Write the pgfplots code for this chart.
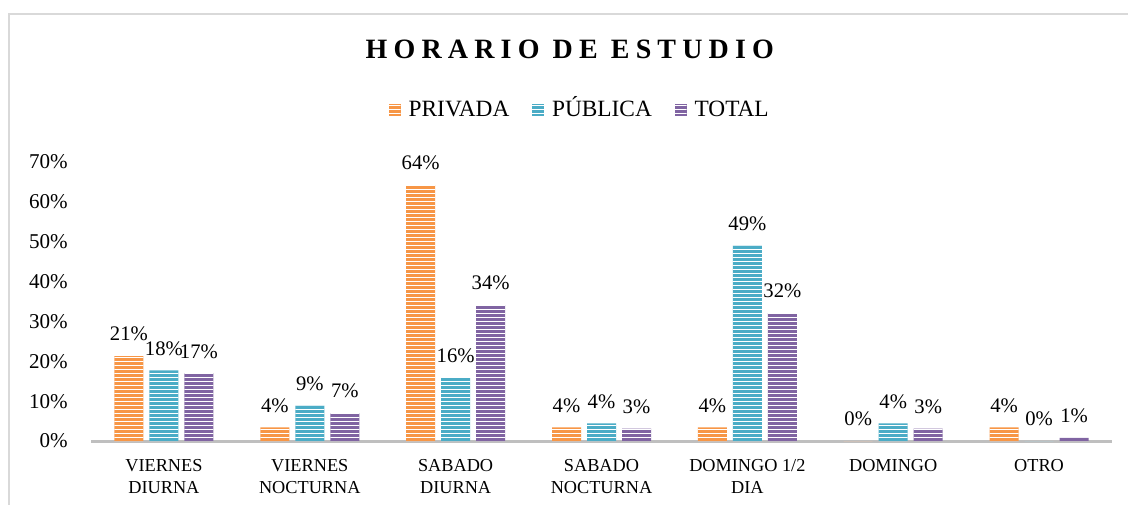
\documentclass[border=0pt]{standalone}
\usepackage{fontspec}
\setmainfont{Liberation Serif}
\usepackage{pgfplots}
\usepackage{pgfplotstable}
\pgfplotsset{compat=1.18}
\usetikzlibrary{patterns.meta}
\definecolor{cPriv}{HTML}{F79646}
\definecolor{cPub}{HTML}{4BACC6}
\definecolor{cTot}{HTML}{8064A2}
\definecolor{cBase}{HTML}{BFBFBF}
\definecolor{cFrame}{HTML}{D9D9D9}

\pgfplotstableread{
x p pl
0 21.3 21
1 3.4 4
2 64.2 64
3 3.4 4
4 3.4 4
5 0 0
6 3.4 4
}\privada
\pgfplotstableread{
x p pl
0 17.7 18
1 8.9 9
2 15.8 16
3 4.4 4
4 49.0 49
5 4.4 4
6 0 0
}\publica
\pgfplotstableread{
x p pl
0 17.0 17
1 7.0 7
2 34.1 34
3 3.1 3
4 32.1 32
5 3.1 3
6 0.8 1
}\total

\begin{document}
\begin{tikzpicture}
\useasboundingbox (0,0) rectangle (846bp,378.75bp);
\draw[cFrame, line width=1.5bp] (6.75bp,-10bp) -- (6.75bp,368.25bp) -- (870bp,368.25bp);
\begin{axis}[
  at={(68.25bp,48bp)}, anchor=south west,
  scale only axis,
  width=765.75bp, height=209.25bp,
  xmin=-0.5, xmax=6.5, ymin=0, ymax=70,
  clip=false,
  ybar=4.5bp, bar width=21.75bp,
  separate axis lines,
  axis x line*=bottom, axis y line*=left,
  x axis line style={draw=cBase, line width=2.25bp, -},
  y axis line style={draw=none},
  major tick length=0pt,
  ytick={0,10,20,30,40,50,60,70},
  yticklabel={\pgfmathprintnumber{\tick}\%},
  /pgf/number format/assume math mode=true,
  yticklabel style={font=\fontsize{15.8bp}{19bp}\selectfont, xshift=-14bp},
  xtick={0,1,2,3,4,5,6},
  xticklabels={VIERNES\\DIURNA, VIERNES\\NOCTURNA, SABADO\\DIURNA, SABADO\\NOCTURNA, DOMINGO 1/2\\DIA, DOMINGO, OTRO},
  xticklabel style={align=center, font=\fontsize{13.7bp}{16.5bp}\selectfont, yshift=-10bp},
  point meta=explicit symbolic,
  nodes near coords={\pgfplotspointmeta\%},
  every node near coord/.append style={font=\fontsize{15.5bp}{18bp}\selectfont, anchor=south, inner sep=0pt, yshift=11bp},
  title={HORARIO DE ESTUDIO},
  title style={at={(0.469,1.375)}, anchor=center, font=\fontsize{21bp}{24bp}\selectfont\bfseries\addfontfeature{LetterSpace=22}},
  legend columns=3,
  legend style={at={(0.479,1.19)}, anchor=center, draw=none, fill=none,
    font=\fontsize{17.5bp}{20bp}\selectfont,
    /tikz/every odd column/.append style={column sep=4bp},
    /tikz/every even column/.append style={column sep=15bp, nodes={text height=16bp, text depth=4bp}},
    nodes={inner sep=2bp}},
  legend image code/.code={\fill[#1] (0bp,-5bp) rectangle (9bp,4bp);},
]
\addplot[draw=none, fill=cPriv, postaction={pattern={Lines[angle=0, distance=3bp, line width=0.6bp]}, pattern color=white}] table[x=x, y=p, meta=pl] {\privada};
\addplot[draw=none, fill=cPub, postaction={pattern={Lines[angle=0, distance=3bp, line width=0.6bp]}, pattern color=white}] table[x=x, y=p, meta=pl] {\publica};
\addplot[draw=none, fill=cTot, postaction={pattern={Lines[angle=0, distance=3bp, line width=0.6bp]}, pattern color=white}] table[x=x, y=p, meta=pl] {\total};
\legend{PRIVADA, PÚBLICA, TOTAL}
\end{axis}
\end{tikzpicture}
\end{document}
